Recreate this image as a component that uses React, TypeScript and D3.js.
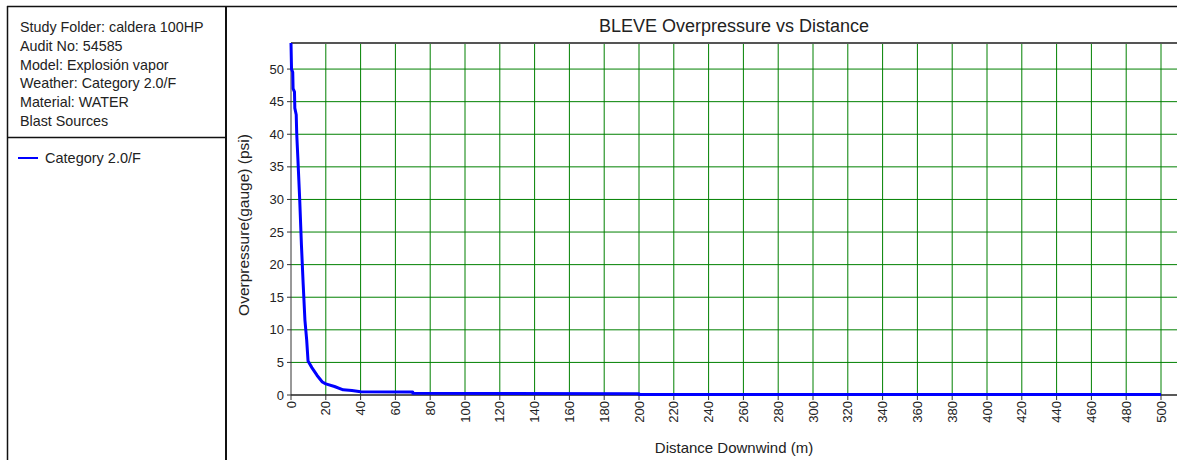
import React from "react";
import * as d3 from "d3";

const infoLines = [
  "Study Folder: caldera 100HP",
  "Audit No: 54585",
  "Model: Explosión vapor",
  "Weather: Category 2.0/F",
  "Material: WATER",
  "Blast Sources",
];
const seriesName = "Category 2.0/F";
const title = "BLEVE Overpressure vs Distance";
const xLabel = "Distance Downwind (m)";
const yLabel = "Overpressure(gauge) (psi)";

const distance = [0, 0.3, 1, 1.2, 2, 2.2, 3, 3.3, 4, 5, 6, 7, 8, 8.5, 9, 9.8, 12, 15, 18, 20, 25, 30, 35, 40, 70, 70, 200, 200, 500];
const overpressure = [54, 50, 49.5, 47, 46.5, 44, 43, 40, 36, 30, 23, 17, 11.5, 10, 8.5, 5.2, 4.2, 3, 2, 1.7, 1.3, 0.8, 0.7, 0.5, 0.45, 0.25, 0.2, 0.08, 0.08];

const xTicks = d3.range(0, 501, 20);
const yTicks = d3.range(0, 51, 5);

const W = 1177;
const H = 460;
const FONT = "'Liberation Sans', Arial, sans-serif";

export default function App() {
  const left = 291;
  const top = 43;
  const bottom = 395;
  const x = d3.scaleLinear().domain([0, 500]).range([left, 1161]);
  const y = d3.scaleLinear().domain([0, 54]).range([bottom, top]);
  const pts = distance.map((d, i) => [d, overpressure[i]] as [number, number]);
  const line = d3
    .line<[number, number]>()
    .x((d) => x(d[0]))
    .y((d) => y(d[1]));
  const plotCx = (left + W) / 2;

  return (
    <svg
      width={W}
      height={H}
      style={{ position: "absolute", left: 0, top: 0, background: "#fff" }}
      fontFamily={FONT}
    >
      <rect x={0} y={0} width={W} height={H} fill="#fff" />
      {/* left panel frame */}
      <line x1={7} x2={W} y1={6.5} y2={6.5} stroke="#111" strokeWidth={1.5} />
      <line x1={7.5} x2={7.5} y1={6} y2={H} stroke="#111" strokeWidth={1.5} />
      <line x1={226} x2={226} y1={6} y2={H} stroke="#111" strokeWidth={2} />
      <line x1={7} x2={226} y1={137.5} y2={137.5} stroke="#111" strokeWidth={1.5} />
      {infoLines.map((t, i) => (
        <text key={i} x={20} y={32 + i * 18.8} fontSize={14.3} fill="#222">
          {t}
        </text>
      ))}
      <line x1={18} x2={38} y1={158} y2={158} stroke="#0000ff" strokeWidth={2} />
      <text x={45} y={163} fontSize={14.5} fill="#222">
        {seriesName}
      </text>

      {/* title */}
      <text x={plotCx} y={32} fontSize={18} textAnchor="middle" fill="#222">
        {title}
      </text>

      {/* grid */}
      {yTicks
        .filter((v) => v > 0)
        .map((v) => (
          <line key={"gy" + v} x1={left} x2={W} y1={y(v)} y2={y(v)} stroke="#008000" strokeWidth={1} />
        ))}
      {xTicks
        .filter((v) => v > 0)
        .map((v) => (
          <line key={"gx" + v} x1={x(v)} x2={x(v)} y1={top} y2={bottom} stroke="#008000" strokeWidth={1} />
        ))}

      {/* plot border / axes */}
      <line x1={left} x2={W} y1={top} y2={top} stroke="#555" strokeWidth={2} />
      <line x1={left} x2={left} y1={top} y2={bottom} stroke="#333" strokeWidth={1} />
      <line x1={left} x2={W} y1={bottom} y2={bottom} stroke="#222" strokeWidth={1.5} />

      {/* y ticks */}
      {yTicks.map((v) => (
        <g key={"ty" + v}>
          <line x1={left - 4} x2={left} y1={y(v)} y2={y(v)} stroke="#333" />
          <text x={left - 7} y={y(v) + 4.5} fontSize={13} textAnchor="end" fill="#222">
            {v}
          </text>
        </g>
      ))}
      {/* x ticks */}
      {xTicks.map((v) => (
        <g key={"tx" + v}>
          <line x1={x(v)} x2={x(v)} y1={bottom} y2={bottom + 5} stroke="#333" />
          <text
            transform={`translate(${x(v) + 4.5},${bottom + 6}) rotate(-90)`}
            fontSize={13}
            textAnchor="end"
            fill="#222"
          >
            {v}
          </text>
        </g>
      ))}

      {/* axis labels */}
      <text x={plotCx} y={453} fontSize={15} textAnchor="middle" fill="#222">
        {xLabel}
      </text>
      <text
        transform={`translate(${249},${225}) rotate(-90)`}
        fontSize={15.5}
        textAnchor="middle"
        fill="#222"
      >
        {yLabel}
      </text>

      {/* series */}
      <path d={line(pts) || ""} fill="none" stroke="#0000ff" strokeWidth={3} strokeLinejoin="round" />
    </svg>
  );
}
